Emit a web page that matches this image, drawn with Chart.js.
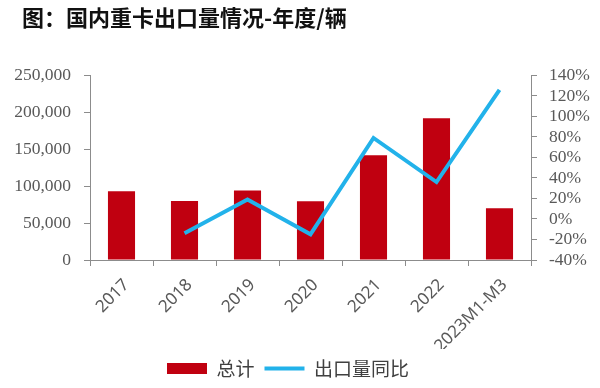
<!DOCTYPE html>
<html>
<head>
<meta charset="utf-8">
<script src="https://cdn.jsdelivr.net/npm/chart.js@4.4.0/dist/chart.umd.min.js"></script>
<style>
  html, body { margin: 0; padding: 0; background: #fff; }
  .wrap { width: 600px; height: 388px; position: relative; }
</style>
</head>
<body>
<div class="wrap"><canvas id="c" width="600" height="388"></canvas></div>
<script>
const categories = ['2017', '2018', '2019', '2020', '2021', '2022', '2023M1-M3']
const totalValues = [93000, 80000, 94000, 79500, 142000, 192000, 70000]
const yoyValues = [null, -14, 19, -15, 79, 36, 126]

const axisGrey = '#8c8c8c'
const textGrey = '#595959'

// move the title right and the legend a bit left, like in the original
const shiftBlocks = {
  id: 'shiftBlocks',
  afterLayout(chart) {
    chart.titleBlock.left += 22
    chart.titleBlock.right += 22
    chart.legend.left -= 12
    chart.legend.right -= 12
  }
}

const config = {
  type: 'bar',
  data: {
    labels: categories,
    datasets: [
      {
        type: 'line',
        label: '出口量同比',
        data: yoyValues,
        yAxisID: 'y1',
        borderColor: '#22b2ea',
        backgroundColor: '#22b2ea',
        borderWidth: 4,
        pointRadius: 0,
        pointStyle: 'line',
        tension: 0,
        order: 0
      },
      {
        type: 'bar',
        label: '总计',
        data: totalValues,
        yAxisID: 'y',
        backgroundColor: '#c00010',
        pointStyle: 'rect',
        categoryPercentage: 1,
        barPercentage: 0.43,
        order: 1
      }
    ]
  },
  options: {
    responsive: false,
    animation: false,
    layout: { padding: 0 },
    plugins: {
      title: {
        display: true,
        text: '图：国内重卡出口量情况-年度/辆',
        align: 'start',
        color: '#111',
        font: { family: 'Noto Sans CJK SC', size: 22, weight: 'bold' },
        padding: { top: 4, bottom: 45 }
      },
      legend: {
        position: 'bottom',
        reverse: true,
        labels: {
          usePointStyle: true,
          pointStyleWidth: 40,
          boxHeight: 11,
          color: '#404040',
          font: { family: 'Noto Sans CJK SC', size: 19 },
          padding: 10
        }
      },
      tooltip: { enabled: false }
    },
    scales: {
      x: {
        grid: { drawOnChartArea: false, color: axisGrey, tickLength: 6, offset: true },
        border: { color: axisGrey },
        ticks: {
          color: textGrey,
          minRotation: 45,
          maxRotation: 45,
          padding: 9,
          labelOffset: 5,
          font: { family: 'Noto Sans', size: 17 }
        },
        afterFit: s => { s.height = 89 }
      },
      y: {
        position: 'left',
        min: 0,
        max: 250000,
        grid: { drawOnChartArea: false, color: axisGrey, tickLength: 6 },
        border: { color: axisGrey },
        ticks: {
          stepSize: 50000,
          color: textGrey,
          padding: 13,
          autoSkip: false,
          font: { family: 'Liberation Serif', size: 17.5 },
          callback: v => v.toLocaleString('en-US')
        },
        afterFit: s => { s.width = 90 }
      },
      y1: {
        position: 'right',
        min: -40,
        max: 140,
        grid: { drawOnChartArea: false, color: axisGrey, tickLength: 6 },
        border: { color: axisGrey },
        ticks: {
          stepSize: 20,
          color: textGrey,
          padding: 12,
          autoSkip: false,
          font: { family: 'Liberation Serif', size: 17.5 },
          callback: v => v + '%'
        },
        afterFit: s => { s.width = 69 }
      }
    }
  },
  plugins: [shiftBlocks]
}

const canvas = document.getElementById('c')
new Chart(canvas.getContext('2d'), config)
</script>
</body>
</html>
